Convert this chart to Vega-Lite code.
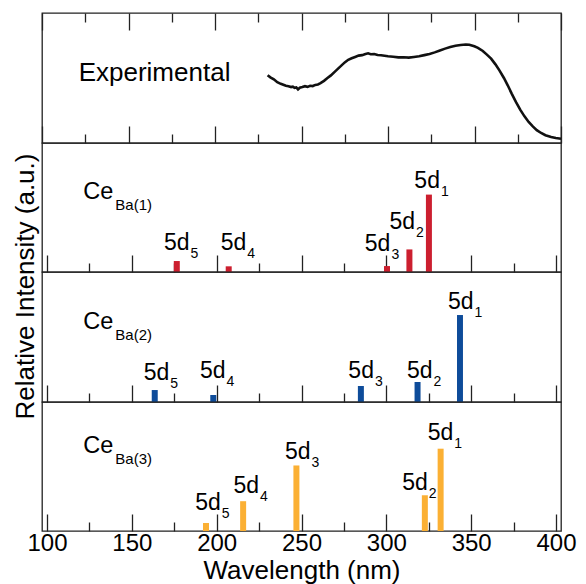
{
  "$schema": "https://vega.github.io/schema/vega-lite/v6.json",
  "padding": {"left": 11, "top": 11, "right": 0, "bottom": 0},
  "spacing": 0,
  "bounds": "flush",
  "config": {
    "font": "Liberation Sans",
    "view": {"stroke": "#222", "strokeWidth": 1.3},
    "text": {"color": "#000"}
  },
  "datasets": {
    "exp": [
      {"w": 230.4, "v": 0.521}, {"w": 232, "v": 0.505}, {"w": 234, "v": 0.49}, {"w": 236, "v": 0.468},
      {"w": 238, "v": 0.455}, {"w": 239.5, "v": 0.448}, {"w": 241, "v": 0.44}, {"w": 242.5, "v": 0.437},
      {"w": 244, "v": 0.43}, {"w": 245, "v": 0.434}, {"w": 246, "v": 0.425}, {"w": 247, "v": 0.428},
      {"w": 248, "v": 0.412}, {"w": 249, "v": 0.425}, {"w": 250.5, "v": 0.43}, {"w": 252, "v": 0.437},
      {"w": 253.5, "v": 0.432}, {"w": 255, "v": 0.44}, {"w": 256.5, "v": 0.438}, {"w": 258, "v": 0.447},
      {"w": 259.5, "v": 0.45}, {"w": 261, "v": 0.46}, {"w": 263, "v": 0.478}, {"w": 265, "v": 0.5},
      {"w": 267, "v": 0.52}, {"w": 269, "v": 0.545}, {"w": 271, "v": 0.57}, {"w": 273, "v": 0.595},
      {"w": 275, "v": 0.62}, {"w": 277, "v": 0.64}, {"w": 279, "v": 0.652}, {"w": 281, "v": 0.662},
      {"w": 283, "v": 0.672}, {"w": 285, "v": 0.676}, {"w": 287, "v": 0.685}, {"w": 288.5, "v": 0.69},
      {"w": 290, "v": 0.683}, {"w": 292, "v": 0.684}, {"w": 294, "v": 0.677}, {"w": 296, "v": 0.675},
      {"w": 298, "v": 0.671}, {"w": 300, "v": 0.667}, {"w": 303, "v": 0.664}, {"w": 306, "v": 0.659},
      {"w": 309, "v": 0.66}, {"w": 312, "v": 0.657}, {"w": 315, "v": 0.662}, {"w": 318, "v": 0.667},
      {"w": 321, "v": 0.676}, {"w": 324, "v": 0.685}, {"w": 327, "v": 0.697}, {"w": 330, "v": 0.712},
      {"w": 333, "v": 0.726}, {"w": 336, "v": 0.738}, {"w": 339, "v": 0.748}, {"w": 342, "v": 0.754},
      {"w": 345, "v": 0.758}, {"w": 347, "v": 0.756}, {"w": 349.9, "v": 0.744}, {"w": 352, "v": 0.732},
      {"w": 354.8, "v": 0.708}, {"w": 357, "v": 0.682}, {"w": 359.6, "v": 0.649}, {"w": 362, "v": 0.607},
      {"w": 364.4, "v": 0.559}, {"w": 367, "v": 0.5}, {"w": 369.2, "v": 0.444}, {"w": 371.5, "v": 0.38},
      {"w": 374, "v": 0.315}, {"w": 376.5, "v": 0.255}, {"w": 378.9, "v": 0.205}, {"w": 381.3, "v": 0.162},
      {"w": 383.7, "v": 0.128}, {"w": 386, "v": 0.099}, {"w": 388.5, "v": 0.077}, {"w": 391, "v": 0.06},
      {"w": 394.3, "v": 0.046}, {"w": 397, "v": 0.038}, {"w": 400, "v": 0.033}
    ],
    "bars": [
      {"p": 1, "w": 176.5, "v": 0.085, "n": "5", "lx": 184, "ly": 0.167},
      {"p": 1, "w": 207.1, "v": 0.044, "n": "4", "lx": 217.5, "ly": 0.167},
      {"p": 1, "w": 300.4, "v": 0.046, "n": "3", "lx": 302.4, "ly": 0.162},
      {"p": 1, "w": 313.6, "v": 0.175, "n": "2", "lx": 316.9, "ly": 0.333},
      {"p": 1, "w": 325.1, "v": 0.6, "n": "1", "lx": 331.6, "ly": 0.654},
      {"p": 2, "w": 163.5, "v": 0.092, "n": "5", "lx": 172.1, "ly": 0.167},
      {"p": 2, "w": 198, "v": 0.054, "n": "4", "lx": 205.2, "ly": 0.185},
      {"p": 2, "w": 285, "v": 0.123, "n": "3", "lx": 292.7, "ly": 0.185},
      {"p": 2, "w": 318.4, "v": 0.154, "n": "2", "lx": 327.2, "ly": 0.185},
      {"p": 2, "w": 343.4, "v": 0.669, "n": "1", "lx": 351.4, "ly": 0.718},
      {"p": 3, "w": 193.7, "v": 0.062, "n": "5", "lx": 202.4, "ly": 0.162},
      {"p": 3, "w": 215.6, "v": 0.231, "n": "4", "lx": 225, "ly": 0.295},
      {"p": 3, "w": 247, "v": 0.508, "n": "3", "lx": 255.3, "ly": 0.556},
      {"p": 3, "w": 322.7, "v": 0.277, "n": "2", "lx": 324.4, "ly": 0.321},
      {"p": 3, "w": 332, "v": 0.638, "n": "1", "lx": 339.5, "ly": 0.705}
    ]
  },
  "vconcat": [
    {
      "width": 519, "height": 130,
      "layer": [
        {
          "data": {"name": "exp"},
          "mark": {"type": "line", "color": "#111", "strokeWidth": 2.6},
          "encoding": {
            "x": {"field": "w", "type": "quantitative", "title": null, "scale": {"domain": [100, 400], "nice": false, "zero": false},
              "axis": {"orient": "bottom", "values": [100,125,150,175,200,225,250,275,300,325,350,375,400], "domain": false, "grid": false, "labels": false, "title": null, "tickColor": "#222", "tickWidth": 1.3, "tickSize": {"condition": {"test": "datum.value % 50 === 0", "value": -17}, "value": -9}}},
            "y": {"field": "v", "type": "quantitative", "title": null, "scale": {"domain": [0, 1], "nice": false}, "axis": null}
          }
        },
        {
          "data": {"values": [{"lx": 121.2, "ly": 0.475, "t": "Experimental"}]},
          "mark": {"type": "text", "align": "left", "baseline": "alphabetic", "fontSize": 26},
          "encoding": {
            "x": {"field": "lx", "type": "quantitative", "title": null,
              "axis": {"orient": "top", "values": [100,125,150,175,200,225,250,275,300,325,350,375,400], "domain": false, "grid": false, "labels": false, "title": null, "tickColor": "#222", "tickWidth": 1.3, "tickSize": {"condition": {"test": "datum.value % 50 === 0", "value": -17}, "value": -9}}},
            "y": {"field": "ly", "type": "quantitative", "title": null, "axis": null},
            "text": {"field": "t"}
          }
        }
      ],
      "resolve": {"axis": {"x": "independent"}}
    },
    {
      "width": 519, "height": 129,
      "layer": [
        {
          "data": {"name": "bars"},
          "transform": [{"filter": "datum.p === 1"}],
          "mark": {"type": "bar", "width": 6, "color": "#cc1f2f"},
          "encoding": {
            "x": {"field": "w", "type": "quantitative", "title": null, "scale": {"domain": [100, 400], "nice": false, "zero": false},
              "axis": {"orient": "bottom", "values": [100,125,150,175,200,225,250,275,300,325,350,375,400], "domain": false, "grid": false, "labels": false, "title": null, "tickColor": "#222", "tickWidth": 1.3, "tickSize": {"condition": {"test": "datum.value % 50 === 0", "value": -17}, "value": -9}}},
            "y": {"field": "v", "type": "quantitative", "title": null, "scale": {"domain": [0, 1], "nice": false}, "axis": null}
          }
        },
        {
          "data": {"name": "bars"},
          "transform": [{"filter": "datum.p === 1"}],
          "mark": {"type": "text", "align": "right", "baseline": "alphabetic", "fontSize": 23},
          "encoding": {
            "x": {"field": "lx", "type": "quantitative", "title": null},
            "y": {"field": "ly", "type": "quantitative", "title": null},
            "text": {"value": "5d"}
          }
        },
        {
          "data": {"name": "bars"},
          "transform": [{"filter": "datum.p === 1"}],
          "mark": {"type": "text", "align": "left", "baseline": "alphabetic", "fontSize": 14, "dx": 1, "dy": 8},
          "encoding": {
            "x": {"field": "lx", "type": "quantitative", "title": null},
            "y": {"field": "ly", "type": "quantitative", "title": null},
            "text": {"field": "n"}
          }
        },
        {
          "data": {"values": [{"tx": 121.4, "ty": 0.566, "main": "Ce", "sub": "Ba(1)"}]},
          "layer": [
            {"mark": {"type": "text", "align": "left", "baseline": "alphabetic", "fontSize": 23.5},
             "encoding": {"x": {"field": "tx", "type": "quantitative", "title": null}, "y": {"field": "ty", "type": "quantitative", "title": null}, "text": {"field": "main"}}},
            {"mark": {"type": "text", "align": "left", "baseline": "alphabetic", "fontSize": 15, "dx": 32, "dy": 11},
             "encoding": {"x": {"field": "tx", "type": "quantitative", "title": null}, "y": {"field": "ty", "type": "quantitative", "title": null}, "text": {"field": "sub"}}}
          ]
        }
      ]
    },
    {
      "width": 519, "height": 130,
      "layer": [
        {
          "data": {"name": "bars"},
          "transform": [{"filter": "datum.p === 2"}],
          "mark": {"type": "bar", "width": 6, "color": "#0e4c9a"},
          "encoding": {
            "x": {"field": "w", "type": "quantitative", "title": null, "scale": {"domain": [100, 400], "nice": false, "zero": false},
              "axis": {"orient": "bottom", "values": [100,125,150,175,200,225,250,275,300,325,350,375,400], "domain": false, "grid": false, "labels": false, "title": null, "tickColor": "#222", "tickWidth": 1.3, "tickSize": {"condition": {"test": "datum.value % 50 === 0", "value": -17}, "value": -9}}},
            "y": {"field": "v", "type": "quantitative", "title": "Relative Intensity (a.u.)", "scale": {"domain": [0, 1], "nice": false},
              "axis": {"domain": false, "ticks": false, "labels": false, "grid": false, "title": "Relative Intensity (a.u.)", "titleFontSize": 26, "titleFontWeight": "normal", "titleColor": "#000", "titleX": -9, "titleY": 14, "titleBaseline": "alphabetic", "titleAlign": "center", "titleAngle": -90}}
          }
        },
        {
          "data": {"name": "bars"},
          "transform": [{"filter": "datum.p === 2"}],
          "mark": {"type": "text", "align": "right", "baseline": "alphabetic", "fontSize": 23},
          "encoding": {
            "x": {"field": "lx", "type": "quantitative", "title": null},
            "y": {"field": "ly", "type": "quantitative", "title": "Relative Intensity (a.u.)"},
            "text": {"value": "5d"}
          }
        },
        {
          "data": {"name": "bars"},
          "transform": [{"filter": "datum.p === 2"}],
          "mark": {"type": "text", "align": "left", "baseline": "alphabetic", "fontSize": 14, "dx": 1, "dy": 8},
          "encoding": {
            "x": {"field": "lx", "type": "quantitative", "title": null},
            "y": {"field": "ly", "type": "quantitative", "title": "Relative Intensity (a.u.)"},
            "text": {"field": "n"}
          }
        },
        {
          "data": {"values": [{"tx": 121.4, "ty": 0.559, "main": "Ce", "sub": "Ba(2)"}]},
          "layer": [
            {"mark": {"type": "text", "align": "left", "baseline": "alphabetic", "fontSize": 23.5},
             "encoding": {"x": {"field": "tx", "type": "quantitative", "title": null}, "y": {"field": "ty", "type": "quantitative", "title": "Relative Intensity (a.u.)"}, "text": {"field": "main"}}},
            {"mark": {"type": "text", "align": "left", "baseline": "alphabetic", "fontSize": 15, "dx": 32, "dy": 11},
             "encoding": {"x": {"field": "tx", "type": "quantitative", "title": null}, "y": {"field": "ty", "type": "quantitative", "title": "Relative Intensity (a.u.)"}, "text": {"field": "sub"}}}
          ]
        }
      ]
    },
    {
      "width": 519, "height": 129,
      "layer": [
        {
          "data": {"name": "bars"},
          "transform": [{"filter": "datum.p === 3"}],
          "mark": {"type": "bar", "width": 6, "color": "#fbb034"},
          "encoding": {
            "x": {"field": "w", "type": "quantitative", "title": "Wavelength (nm)", "scale": {"domain": [100, 400], "nice": false, "zero": false},
              "axis": {"orient": "bottom", "values": [100,125,150,175,200,225,250,275,300,325,350,375,400], "domain": false, "grid": false, "labels": true, "labelExpr": "datum.value % 50 === 0 ? datum.label : ''", "labelFontSize": 24, "labelColor": "#000", "labelFlush": false, "labelOverlap": false, "labelPadding": 17, "title": "Wavelength (nm)", "titleFontSize": 26, "titleFontWeight": "normal", "titleColor": "#000", "titlePadding": -6, "tickColor": "#222", "tickWidth": 1.3, "tickSize": {"condition": {"test": "datum.value % 50 === 0", "value": -17}, "value": -9}}},
            "y": {"field": "v", "type": "quantitative", "title": null, "scale": {"domain": [0, 1], "nice": false}, "axis": null}
          }
        },
        {
          "data": {"name": "bars"},
          "transform": [{"filter": "datum.p === 3"}],
          "mark": {"type": "text", "align": "right", "baseline": "alphabetic", "fontSize": 23},
          "encoding": {
            "x": {"field": "lx", "type": "quantitative", "title": "Wavelength (nm)"},
            "y": {"field": "ly", "type": "quantitative", "title": null},
            "text": {"value": "5d"}
          }
        },
        {
          "data": {"name": "bars"},
          "transform": [{"filter": "datum.p === 3"}],
          "mark": {"type": "text", "align": "left", "baseline": "alphabetic", "fontSize": 14, "dx": 1, "dy": 8},
          "encoding": {
            "x": {"field": "lx", "type": "quantitative", "title": "Wavelength (nm)"},
            "y": {"field": "ly", "type": "quantitative", "title": null},
            "text": {"field": "n"}
          }
        },
        {
          "data": {"values": [{"tx": 121.4, "ty": 0.602, "main": "Ce", "sub": "Ba(3)"}]},
          "layer": [
            {"mark": {"type": "text", "align": "left", "baseline": "alphabetic", "fontSize": 23.5},
             "encoding": {"x": {"field": "tx", "type": "quantitative", "title": "Wavelength (nm)"}, "y": {"field": "ty", "type": "quantitative", "title": null}, "text": {"field": "main"}}},
            {"mark": {"type": "text", "align": "left", "baseline": "alphabetic", "fontSize": 15, "dx": 32, "dy": 11},
             "encoding": {"x": {"field": "tx", "type": "quantitative", "title": "Wavelength (nm)"}, "y": {"field": "ty", "type": "quantitative", "title": null}, "text": {"field": "sub"}}}
          ]
        }
      ]
    }
  ]
}
